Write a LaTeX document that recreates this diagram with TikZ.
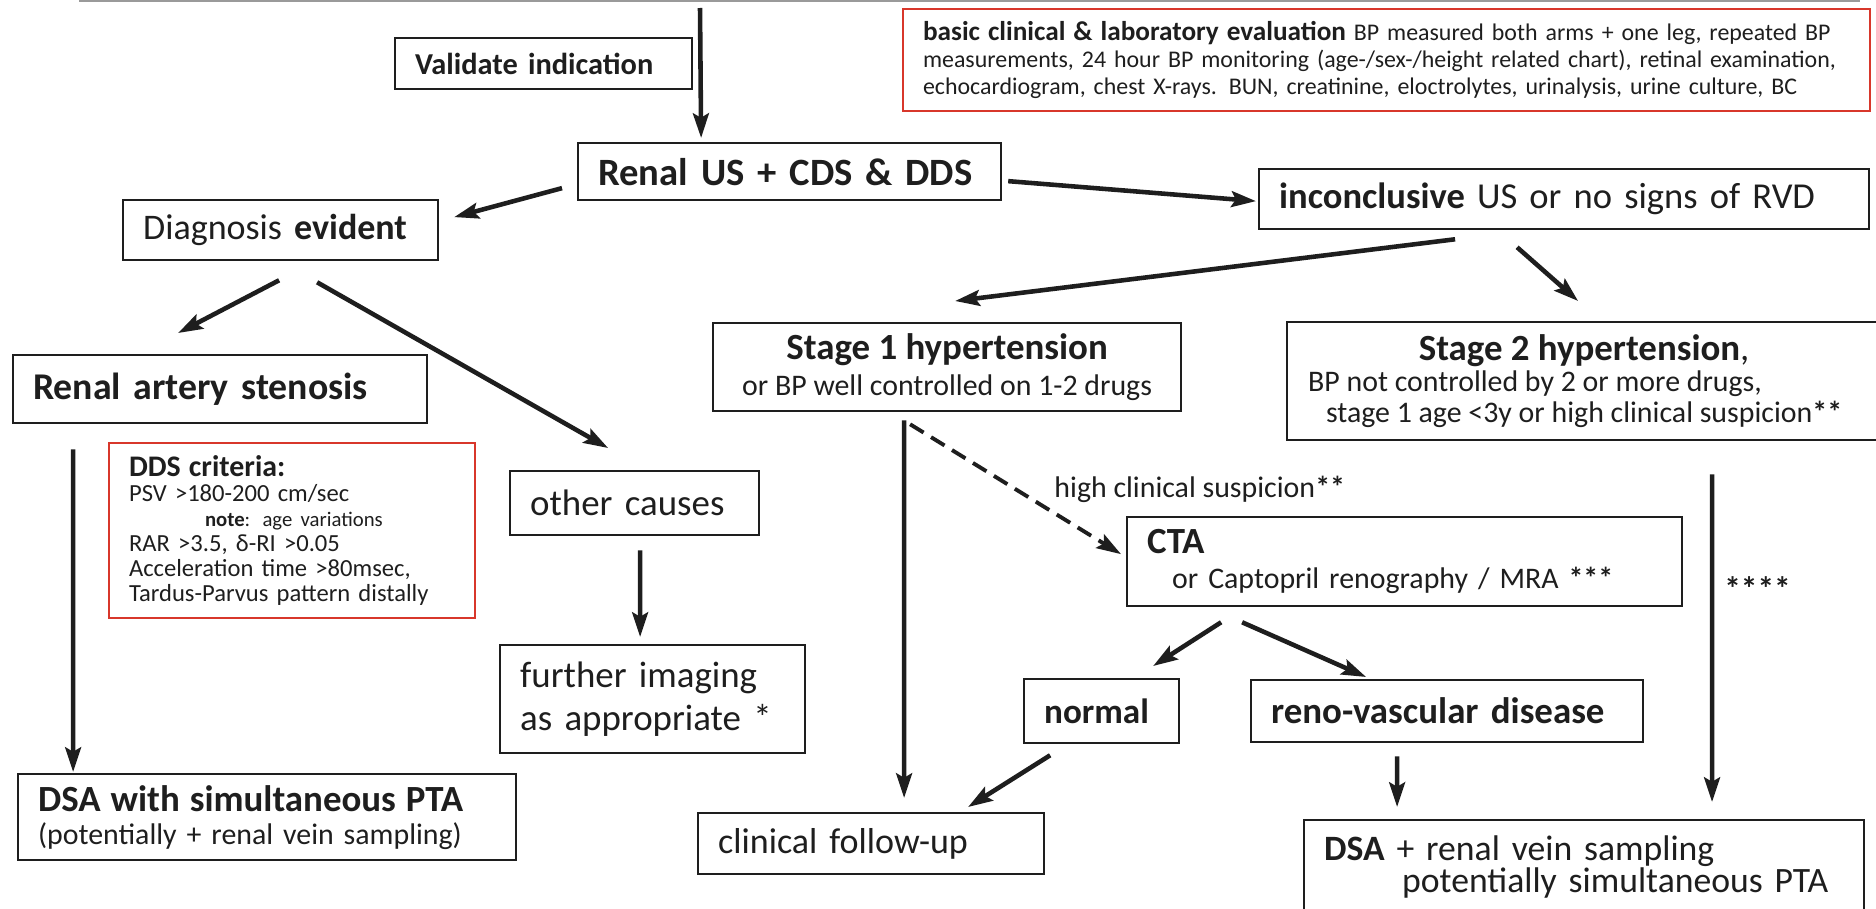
\documentclass[tikz,border=0pt]{standalone}
\usepackage{fontspec}
\setmainfont{Carlito}
\usepackage{tikz}
\usetikzlibrary{arrows.meta}
\definecolor{ink}{HTML}{1E1E1E}
\definecolor{critred}{HTML}{D8372B}
\definecolor{rulegray}{HTML}{9A9A9A}
\tikzset{
	box/.style={rectangle, draw=ink, line width=1.3pt, anchor=north west,
		inner xsep=0.4cm, inner ysep=0pt, align=left, text=ink},
	cbox/.style={box, align=center},
	redbox/.style={box, draw=critred, line width=1.2pt},
	bigtxt/.style={font=\fontsize{21}{24}\selectfont},
	arr/.style={-{Stealth[length=14pt, width=9pt, inset=2.5pt]}, line width=2.6pt, draw=ink},
	darr/.style={arr, dash pattern=on 9pt off 5pt, line width=2.2pt},
	lbl/.style={font=\fontsize{17}{19}\selectfont, text=ink, inner sep=0pt, anchor=west},
}

\begin{document}
\begin{tikzpicture}[x=0.02cm, y=-0.02cm]
	\useasboundingbox (0,0) rectangle (1876,909);
	\draw[rulegray, line width=1.5pt] (79,1) -- (1860,1);
	
	\node[box, text width=5.14cm, minimum height=1.02cm, font=\fontsize{17.3}{20}\selectfont\bfseries] (valid) at (394,37) {Validate indication};
	\node[redbox, text width=18.54cm, minimum height=2.04cm, font=\fontsize{13.6}{15.3}\selectfont] (basic) at (902,8) {{\fontsize{15.5}{15.3}\selectfont\bfseries basic clinical \& laboratory evaluation} BP measured both arms + one leg, repeated BP\\measurements, 24 hour BP monitoring (age-/sex-/height related chart), retinal examination,\\echocardiogram, chest X-rays. BUN, creatinine, eloctrolytes, urinalysis, urine culture, BC};
	\node[box, text width=7.66cm, minimum height=1.14cm, font=\fontsize{22}{26}\selectfont\bfseries] (renal) at (577,142) {\mbox{Renal US + CDS \& DDS}};
	\node[box, text width=5.5cm, minimum height=1.2cm, font=\fontsize{20.5}{24}\selectfont] (diag) at (122,199) {Diagnosis \textbf{evident}};
	\node[box, text width=11.4cm, minimum height=1.2cm, font=\fontsize{20.8}{24}\selectfont] (inconc) at (1258,168) {\textbf{inconclusive} US or no signs of RVD};
	
	\node[box, text width=7.48cm, minimum height=1.36cm, font=\fontsize{21.5}{24}\selectfont\bfseries] (ras) at (12,354) {Renal artery stenosis};
	\node[redbox, text width=6.52cm, minimum height=3.5cm, font=\fontsize{14}{14.2}\selectfont] (dds) at (108,442) {{\fontsize{17}{14.2}\selectfont\bfseries DDS criteria:}\\PSV >180-200 cm/sec\\\hspace*{1.52cm}{\fontsize{11.8}{14.2}\selectfont\textbf{note}: age variations}\\RAR >3.5, δ-RI >0.05\\Acceleration time >80msec,\\Tardus-Parvus pattern distally};
	\node[box, bigtxt, text width=4.18cm, minimum height=1.28cm] (other) at (509,470) {other causes};
	\node[box, bigtxt, text width=5.3cm, minimum height=2.16cm] (further) at (499,644) {further imaging\\as appropriate *};
	\node[box, text width=9.16cm, minimum height=1.72cm, font=\fontsize{17}{18.8}\selectfont] (dsa) at (17,773) {{\fontsize{21}{18.8}\selectfont\bfseries DSA with simultaneous PTA}\\(potentially + renal vein sampling)};
	
	\node[cbox, minimum width=9.36cm, minimum height=1.76cm, font=\fontsize{17}{20}\selectfont] (stone) at (712,322) {{\fontsize{21}{20}\selectfont\bfseries Stage 1 hypertension}\\or BP well controlled on 1-2 drugs};
	\node[cbox, minimum width=11.88cm, minimum height=2.36cm, font=\fontsize{17}{17.8}\selectfont] (sttwo) at (1286,321) {{\fontsize{21}{17.8}\selectfont\textbf{Stage 2 hypertension},}\\\makebox[11.04cm][l]{BP not controlled by 2 or more drugs,}\\stage 1 age <3y or high clinical suspicion\textbf{**}};
	\node[box, text width=10.3cm, minimum height=1.78cm, font=\fontsize{17}{20}\selectfont] (cta) at (1126,516) {{\fontsize{21}{20}\selectfont\bfseries CTA}\\\hspace*{0.5cm}or Captopril renography / MRA \textbf{***}};
	\node[box, text width=2.3cm, minimum height=1.28cm, font=\fontsize{20}{24}\selectfont\bfseries] (normal) at (1023,678) {normal};
	\node[box, text width=7.04cm, minimum height=1.24cm, font=\fontsize{21}{24}\selectfont\bfseries] (reno) at (1250,679) {reno-vascular disease};
	\node[box, text width=6.12cm, minimum height=1.22cm, font=\fontsize{20.5}{24}\selectfont] (clinfu) at (697,812) {clinical follow-up};
	\node[box, text width=10.4cm, minimum height=1.86cm, font=\fontsize{20.3}{18.2}\selectfont] (dsaplus) at (1303,819) {\textbf{DSA} + renal vein sampling\\\hspace*{1.56cm}potentially simultaneous PTA};
	
	\coordinate (entry) at (700,8);
	\draw[arr] (entry) -- ([xshift=-1.77cm, yshift=0.08cm]renal.north);
	\draw[arr] ([xshift=-0.3cm, yshift=-0.33cm]renal.west) -- ([xshift=0.3cm, yshift=0.26cm]diag.east);
	\draw[arr] ([xshift=0.12cm, yshift=-0.19cm]renal.east) -- ([xshift=-0.04cm, yshift=-0.04cm]inconc.west);
	\draw[arr] ([xshift=-2.18cm, yshift=-0.18cm]inconc.south) -- ([xshift=0.16cm, yshift=0.42cm]stone.north);
	\draw[arr] ([xshift=-0.94cm, yshift=-0.34cm]inconc.south) -- ([xshift=-0.12cm, yshift=0.4cm]sttwo.north);
	
	\draw[arr] ([xshift=-0.03cm, yshift=-0.38cm]diag.south) -- ([xshift=-0.84cm, yshift=0.42cm]ras.north);
	\draw[arr] ([xshift=0.73cm, yshift=-0.42cm]diag.south) -- ([xshift=-0.53cm, yshift=0.44cm]other.north);
	\draw[arr] ([xshift=-2.94cm, yshift=-0.5cm]ras.south) -- ([xshift=-3.88cm, yshift=0.02cm]dsa.north);
	\draw[arr] ([xshift=0.11cm, yshift=-0.28cm]other.south) -- ([xshift=-0.25cm, yshift=0.14cm]further.north);
	
	\draw[arr] ([xshift=-0.86cm, yshift=-0.16cm]stone.south) -- ([xshift=0.66cm, yshift=0.28cm]clinfu.north);
	\draw[darr] ([xshift=-0.74cm, yshift=-0.24cm]stone.south) -- node[lbl, pos=0.5, xshift=0.74cm] {high clinical suspicion\textbf{**}} ([xshift=-0.1cm, yshift=0.15cm]cta.west);
	\draw[arr] ([xshift=-3.67cm, yshift=-0.3cm]cta.south) -- ([xshift=1.03cm, yshift=0.24cm]normal.north);
	\draw[arr] ([xshift=-3.25cm, yshift=-0.3cm]cta.south) -- ([xshift=-1.62cm, yshift=0.04cm]reno.north);
	\draw[arr] ([xshift=-1.03cm, yshift=-0.22cm]normal.south) -- ([xshift=1.94cm, yshift=0.1cm]clinfu.north);
	\draw[arr] ([xshift=-1cm, yshift=-0.26cm]reno.south) -- ([xshift=-3.74cm, yshift=0.24cm]dsaplus.north);
	\draw[arr] ([xshift=2.56cm, yshift=-0.66cm]sttwo.south) -- node[lbl, pos=0.35, xshift=0.2cm] {\fontsize{19}{19}\selectfont\textbf{****}} ([xshift=2.56cm, yshift=0.34cm]dsaplus.north);
	
\end{tikzpicture}
\end{document}
